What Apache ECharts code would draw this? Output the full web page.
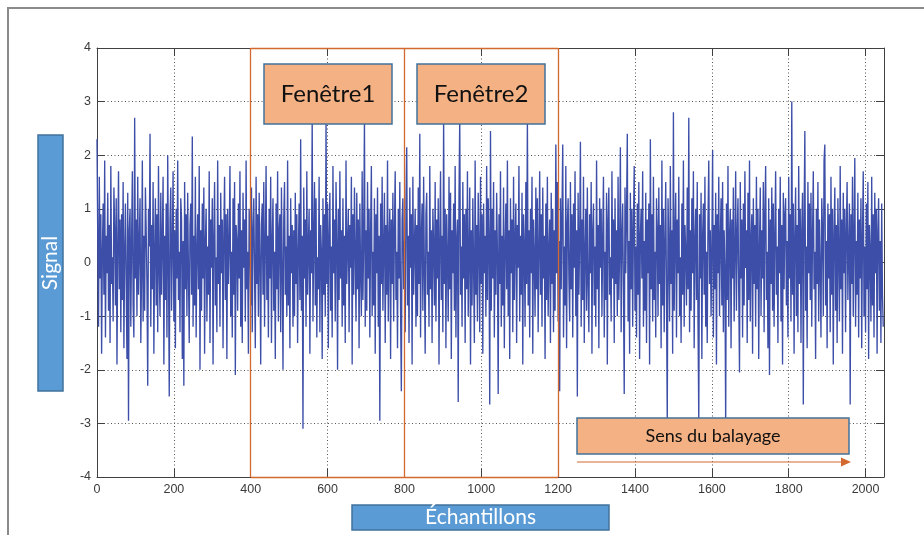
<!DOCTYPE html>
<html><head><meta charset="utf-8">
<script src="https://cdn.jsdelivr.net/npm/echarts@6/dist/echarts.min.js"></script>
<style>html,body{margin:0;padding:0;background:#fff}#c{width:924px;height:535px}</style>
</head><body><div id="c"></div><script>
// sample spacing between stored values (samples)
const sampleStep = 2;
const xMax = 2048;
const yMin = -4, yMax = 4;
const windowBounds = [400, 800, 1200];
const windowLabels = ['Fenêtre1', 'Fenêtre2'];
const sweepLabel = 'Sens du balayage';
const yName = 'Signal';
const xName = 'Échantillons';
const signal = [
2.3,0.4,-1.2,1.6,-0.3,0.9,-1.7,0.2,1.1,-0.6,1.9,-1.4,0.5,-0.2,1.3,-0.9,0.7,-1.5,1.8,-0.4,0.1,-1.1,1.4,0.6,-0.8,1.2,-1.9,0.3,1.7,-0.5,0.8,-1.3,
0.9,-0.7,1.5,-1.6,0.2,1.1,-0.4,-1.8,1.3,-2.95,0.6,1.0,-1.2,0.4,1.7,-0.8,-1.4,2.7,-0.3,0.8,-1.0,1.6,-0.6,0.3,1.2,-1.5,-0.2,1.9,-1.1,0.5,-0.9,1.4,
0.6,-0.4,-2.3,1.0,0.3,2.4,-1.2,0.7,-0.5,1.5,-1.7,0.2,1.2,-0.8,0.9,-1.3,1.8,-0.1,-1.0,1.3,-0.6,0.4,1.6,-1.9,0.5,-0.7,1.1,-1.4,2.0,0.1,-2.5,0.8,
1.4,-0.9,0.3,1.7,-1.1,0.6,-1.6,1.0,-0.3,1.9,-0.7,0.2,-1.3,1.2,0.8,-1.8,0.4,-2.3,1.5,-0.5,0.9,-1.0,1.3,-0.2,-1.5,0.7,1.1,-0.6,2.35,-1.2,0.5,-0.8,
1.6,-1.4,0.2,0.9,-0.5,1.8,-2.0,0.6,-0.9,1.1,-0.3,1.4,-1.7,0.4,1.0,-1.1,0.3,-0.6,1.7,-1.5,0.8,-0.1,1.2,-1.9,0.5,1.5,-0.8,0.1,-1.3,1.9,-0.4,0.7,
-1.2,1.3,-0.2,0.8,-1.6,0.5,1.6,-0.7,0.9,-1.8,1.0,-0.4,0.3,1.8,-1.0,0.2,-1.4,1.2,-0.6,1.5,-2.1,0.7,0.4,-0.9,1.1,-0.3,1.7,-1.2,0.6,-1.5,1.3,-0.1,
0.8,-1.1,1.9,-0.5,0.2,-1.7,1.0,0.4,-0.8,1.4,-1.3,0.6,1.2,-0.2,-1.6,1.6,-0.4,0.9,-1.0,1.3,0.1,-1.9,0.7,1.1,-0.6,1.5,-1.2,0.3,1.8,-0.7,0.5,-1.4,
1.0,-0.3,1.6,-1.5,0.4,1.2,-0.9,0.2,-1.8,1.1,-0.5,1.7,-1.1,0.6,0.9,-1.3,1.4,-0.1,-2.0,0.8,1.5,-0.6,0.3,-1.0,1.9,-0.8,0.5,-1.6,1.2,-0.2,0.7,-1.2,
0.6,-1.0,1.3,-0.4,0.9,-1.5,0.2,1.1,-0.7,2.3,-0.9,0.5,-3.1,1.4,-0.3,0.8,-1.2,1.7,-0.6,0.3,1.0,-1.7,0.6,-0.2,2.7,-1.1,0.4,1.5,-0.8,1.2,-1.4,0.1,
-0.5,1.6,-1.3,0.7,0.2,-1.8,1.2,-0.6,0.9,-1.0,2.65,-0.4,1.1,-1.6,0.5,1.3,-0.9,0.3,-1.4,1.8,-0.2,0.8,-1.1,1.5,0.4,-2.0,1.0,-0.7,1.7,-0.3,0.6,-1.2,
1.2,-0.8,0.5,-1.5,1.9,-0.4,0.3,1.0,-1.3,0.7,-0.1,1.6,-1.9,0.9,-0.6,1.4,0.2,-1.1,1.3,-0.5,0.8,-1.6,1.1,-0.2,-1.0,1.7,-0.7,0.4,2.7,-1.2,0.6,-0.9,
1.5,-0.3,1.0,-1.4,0.6,1.8,-1.0,0.2,-0.8,1.2,-1.7,0.9,-0.2,1.4,-1.2,0.5,-2.95,1.1,-0.4,1.6,-0.9,0.3,1.3,-1.5,0.7,-0.6,1.9,-1.1,0.4,1.0,-1.8,0.8,
-0.4,1.3,-1.1,0.6,1.7,-0.7,0.2,-1.6,1.0,-0.3,1.5,-0.9,-2.4,0.8,1.2,-0.5,0.4,-1.3,1.1,2.15,-0.8,0.5,-1.5,1.4,-0.1,0.9,-1.9,1.6,-0.6,0.3,1.0,-1.2,
0.7,-1.0,1.4,-0.4,2.4,-1.4,0.5,1.1,-0.9,1.6,-0.2,-1.7,0.9,1.3,-0.6,0.2,-1.2,1.8,-0.5,0.6,-1.5,1.0,0.3,-0.8,1.5,-1.1,0.8,-0.3,1.2,-1.9,0.4,1.7,
-0.7,0.5,-1.3,2.7,-0.4,1.0,-1.6,0.9,0.1,-1.1,1.6,-0.5,1.3,-1.8,0.6,-0.2,1.1,-0.9,1.8,-1.4,0.4,0.8,-2.6,1.2,2.7,-0.6,0.3,-1.2,1.5,-0.3,0.9,-1.5,
1.0,-0.5,1.7,-1.0,0.2,1.4,-1.9,0.6,-0.8,1.2,-0.1,-1.5,1.9,-0.6,0.7,-1.1,1.3,0.3,-1.3,1.6,-0.4,0.9,-1.7,1.1,-0.2,0.5,-1.0,1.8,-0.7,1.2,0.4,-2.65,
2.45,-0.9,1.0,-0.3,1.5,-1.4,0.6,-0.6,1.3,0.2,-2.45,0.9,-0.4,1.7,-1.2,0.5,-0.8,1.4,-1.6,0.3,1.1,-0.5,1.9,-1.0,0.6,-1.8,1.2,-0.2,0.8,-1.3,1.6,-0.7,
0.4,1.1,-1.5,0.7,-0.1,1.8,-1.1,0.5,-0.6,1.3,-1.9,0.9,0.3,-1.2,1.5,-0.4,2.7,-0.8,0.6,-1.4,1.0,-0.2,1.6,-1.7,0.8,0.1,-1.0,1.4,-0.5,1.2,-1.3,0.2,
1.7,-0.6,0.9,-1.2,1.4,-0.3,0.5,-1.8,1.1,-0.7,1.6,-1.0,0.2,0.8,-1.5,1.3,-0.4,1.0,-1.3,0.6,-0.9,2.2,-0.2,1.5,-1.1,0.4,-2.4,1.2,-0.5,0.9,2.2,-1.4,
0.3,-0.8,1.8,-1.6,0.7,1.2,-0.3,-1.1,1.5,-0.5,0.9,-1.4,1.1,-0.1,1.7,-1.0,0.6,-2.5,1.3,-0.6,0.4,2.25,-1.2,0.8,-0.7,1.6,-1.5,0.2,1.0,-0.9,1.4,-0.4,
-1.3,0.9,-0.2,1.5,-1.7,0.6,1.1,-0.8,0.3,-1.2,1.9,-0.5,0.7,-1.6,1.2,-0.1,1.0,-1.0,0.5,1.6,-1.4,0.2,-0.7,1.3,-1.9,0.8,1.4,-0.6,0.1,-1.1,1.7,-0.3,
0.8,-1.5,1.2,-0.4,0.6,-1.0,1.6,-0.7,0.2,2.15,-1.3,0.5,1.1,-0.6,-2.45,1.4,-0.2,0.9,2.4,-1.1,0.4,-1.7,1.3,-0.5,1.0,-1.2,0.7,1.8,-0.9,0.3,-1.4,1.1,
-0.6,1.5,-1.8,0.5,1.0,-0.3,1.7,-1.2,0.4,-0.9,1.3,-1.5,0.8,-0.2,1.1,-1.9,2.3,-0.5,0.9,-1.1,1.6,-0.7,0.2,-1.4,1.2,0.6,-1.0,1.4,-0.4,0.7,-1.6,1.9,
-0.8,1.0,-1.3,0.4,1.5,-0.6,-3.0,1.2,0.3,-1.1,1.8,-0.4,0.6,-1.7,2.8,-0.9,0.5,1.3,-1.4,0.8,-0.2,1.6,-1.0,0.1,-1.5,1.1,-0.6,1.9,-1.2,0.7,0.2,-0.8,
1.4,-0.5,2.7,-1.3,0.6,-0.9,1.2,-0.2,1.7,-1.6,0.4,1.0,-0.7,1.5,-1.1,-2.95,0.9,-0.3,1.3,-1.8,0.5,1.1,-0.6,1.6,-1.2,0.2,-1.5,0.8,1.9,-0.4,0.6,-1.0,
0.3,2.1,-1.4,0.7,-0.5,1.3,-1.9,0.9,-0.2,1.6,-1.0,0.4,1.2,-0.8,1.5,-1.3,0.6,-0.1,-3.05,1.1,-0.7,1.8,-1.2,0.5,1.0,-1.6,0.8,-0.3,1.4,-1.1,0.2,1.7,
-0.9,0.5,1.2,-0.6,-2.05,1.5,-0.3,0.8,-1.4,1.1,-0.8,1.7,-0.1,0.6,-1.5,1.3,-0.7,1.9,-1.1,0.4,0.9,-1.7,1.2,-0.4,0.7,-1.2,1.6,-0.5,1.0,-1.8,0.3,1.4,
-1.0,0.6,-0.3,1.5,-1.3,0.9,1.8,-0.7,0.2,-1.6,1.2,-2.1,0.8,-0.4,1.4,-0.9,1.1,-1.2,0.5,1.7,-0.6,0.3,-1.5,1.0,-0.2,1.6,-1.1,0.7,-1.9,1.3,-0.5,0.9,
1.2,-0.8,0.4,-1.4,1.6,-0.3,0.9,-1.1,3.0,-0.6,1.1,-1.7,0.5,1.4,-1.0,0.7,-1.3,1.8,-0.4,1.0,-1.5,0.6,1.3,-2.65,0.8,2.45,-0.9,0.3,-1.6,1.5,-0.2,1.1,
-0.7,1.3,-1.2,0.5,1.7,-0.5,0.2,-1.8,1.0,-0.4,1.5,-1.1,0.8,-0.1,-1.4,1.2,0.6,-1.0,1.9,2.2,-0.8,0.4,-1.6,1.1,-0.3,0.9,-1.3,1.6,-0.6,1.0,-1.9,0.5,
1.4,-0.9,0.7,-1.5,1.2,0.2,-1.1,1.8,-0.5,0.8,-1.7,1.3,-0.2,1.0,-1.3,0.6,1.5,-0.7,0.3,1.1,-2.65,0.9,-0.4,1.6,-1.0,0.5,1.95,-1.2,0.4,-0.6,1.3,-1.4,
0.8,-0.3,1.2,-1.6,0.5,1.7,-1.0,0.3,-1.3,1.1,-0.5,1.5,-1.8,0.7,0.2,-1.1,1.6,-0.8,0.9,-1.4,1.3,-0.2,1.0,-1.7,0.6,1.2,-0.9,0.4,-1.5,1.1,-0.6,-1.2
];

const chart = echarts.init(document.getElementById('c'), null, {renderer:'canvas'});
const data = signal.map((v, i) => [i * sampleStep, v]);
const axisColor = '#404040';
const orange = '#d2692f';
const boxFill = '#f4b183';
const boxStroke = '#41719c';
const blueFill = '#5b9bd5';
const lblFont = 'Liberation Sans, Arial, sans-serif';
const boxFont = 'Lato, "Open Sans", sans-serif';

const lo = windowBounds[0], hi = windowBounds[windowBounds.length - 1];
const markLines = windowBounds.map(b => ({xAxis: b}));
markLines.push([{coord:[lo, yMin]}, {coord:[hi, yMin]}]);
markLines.push([{coord:[lo, yMax]}, {coord:[hi, yMax]}]);

function box(x, y, w, h, fill, stroke, text, font, color, rot) {
  return [
    {type:'rect', shape:{x, y, width:w, height:h}, style:{fill, stroke, lineWidth:1.5}, z:100},
    {type:'text', x:x + w/2, y:y + h/2, rotation: rot || 0,
     style:{text, fill:color, font, align:'center', verticalAlign:'middle'}, z:101}
  ];
}

const plainLabel = v => String(v);

const option = {
  animation: false,
  backgroundColor: '#fff',
  grid: {left:97, right:40, top:48, bottom:58},
  xAxis: [{
    type:'value', min:0, max:xMax, interval:200,
    axisLine:{show:true, onZero:false, lineStyle:{color:axisColor, width:1}},
    axisTick:{show:true, inside:true, length:8, lineStyle:{color:axisColor}},
    axisLabel:{color:'#3a3a3a', fontSize:12.5, fontFamily:lblFont, margin:6, showMaxLabel:false, formatter:plainLabel},
    splitLine:{show:true, lineStyle:{type:[1,2.5], color:'#555', width:1}}
  }, {
    type:'value', position:'top', min:0, max:xMax, interval:200,
    axisLine:{show:true, onZero:false, lineStyle:{color:axisColor, width:1}},
    axisTick:{show:true, inside:true, length:8, lineStyle:{color:axisColor}},
    axisLabel:{show:false}, splitLine:{show:false}
  }],
  yAxis: [{
    type:'value', min:yMin, max:yMax, interval:1,
    axisLine:{show:true, onZero:false, lineStyle:{color:axisColor, width:1}},
    axisTick:{show:true, inside:true, length:8, lineStyle:{color:axisColor}},
    axisLabel:{color:'#3a3a3a', fontSize:12.5, fontFamily:lblFont, margin:6, formatter:plainLabel},
    splitLine:{show:true, lineStyle:{type:[1,2.5], color:'#555', width:1}}
  }, {
    type:'value', position:'right', min:yMin, max:yMax, interval:1,
    axisLine:{show:true, onZero:false, lineStyle:{color:axisColor, width:1}},
    axisTick:{show:true, inside:true, length:8, lineStyle:{color:axisColor}},
    axisLabel:{show:false}, splitLine:{show:false}
  }],
  series: [{
    type:'line', data, symbol:'none', xAxisIndex:0, yAxisIndex:0,
    lineStyle:{color:'#3c4ea8', width:1.35}, z:2,
    markLine:{silent:true, symbol:'none', label:{show:false},
      lineStyle:{color:orange, width:1.3, type:'solid'}, data:markLines}
  }],
  graphic: [
    {type:'polyline', shape:{points:[[8,535],[8,8],[924,8]]}, style:{stroke:'#8a8a8a', lineWidth:2, fill:null}},
    ...box(264, 64, 128, 60, boxFill, boxStroke, windowLabels[0], '24px ' + boxFont, '#111'),
    ...box(417, 64, 128, 60, boxFill, boxStroke, windowLabels[1], '24px ' + boxFont, '#111'),
    ...box(577, 418, 272, 36, boxFill, boxStroke, sweepLabel, '18px ' + boxFont, '#111'),
    {type:'line', shape:{x1:577, y1:462, x2:843, y2:462}, style:{stroke:orange, lineWidth:1.2}, z:100},
    {type:'polygon', shape:{points:[[841,457.5],[851,462],[841,466.5]]}, style:{fill:orange}, z:100},
    ...box(38, 135, 25, 256, blueFill, boxStroke, yName, '21px ' + boxFont, '#fff', Math.PI/2),
    ...box(352, 505, 257, 25, blueFill, boxStroke, xName, '21px ' + boxFont, '#fff')
  ]
};
chart.setOption(option);
</script></body></html>
